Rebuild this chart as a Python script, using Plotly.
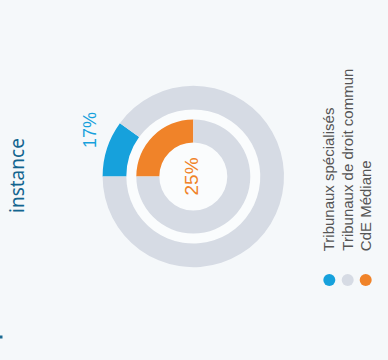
import plotly.graph_objects as go

W, H = 388, 360
BG = "#F5F8FA"

# Data
series_names = ["Tribunaux spécialisés", "Tribunaux de droit commun", "CdE Médiane"]
series_colors = ["#16A1DC", "#D6DBE4", "#F08329"]
outer_values = [10, 90]          # visible share of the outer ring
outer_label = "17%"
inner_values = [25, 75]
inner_label = "25%"
title_text = "instance"

def px_x(x):
    return x / W

def px_y(y):
    return 1 - y / H

cx, cy = 193.3, 176.5
r_out, r_out_in = 90.7, 67.0
r_in, r_in_in = 57.0, 34.0

fig = go.Figure()

fig.add_trace(go.Pie(
    values=outer_values,
    labels=["a", "b"],
    marker=dict(colors=[series_colors[0], series_colors[1]], line=dict(width=0)),
    hole=r_out_in / r_out,
    sort=False, direction="clockwise", rotation=270,
    textinfo="none", hoverinfo="skip", showlegend=False,
    domain=dict(x=[px_x(cx - r_out), px_x(cx + r_out)], y=[px_y(cy + r_out), px_y(cy - r_out)]),
))
fig.add_trace(go.Pie(
    values=inner_values,
    labels=["c", "d"],
    marker=dict(colors=[series_colors[2], series_colors[1]], line=dict(width=0)),
    hole=r_in_in / r_in,
    sort=False, direction="clockwise", rotation=270,
    textinfo="none", hoverinfo="skip", showlegend=False,
    domain=dict(x=[px_x(cx - r_in), px_x(cx + r_in)], y=[px_y(cy + r_in), px_y(cy - r_in)]),
))

shapes = [
    dict(type="circle", xref="paper", yref="paper", layer="below",
         x0=px_x(cx - r_out_in), x1=px_x(cx + r_out_in),
         y0=px_y(cy + r_out_in), y1=px_y(cy - r_out_in),
         fillcolor="#FAFCFD", line=dict(width=0)),
    dict(type="rect", xref="paper", yref="paper",
         x0=px_x(0), x1=px_x(2.5), y0=px_y(338.5), y1=px_y(335.5),
         fillcolor="#1B6A93", line=dict(width=0)),
]
legend_x = [329.3, 347.7, 365.7]
for xc, col in zip(legend_x, series_colors):
    shapes.append(dict(type="circle", xref="paper", yref="paper",
                       x0=px_x(xc - 6), x1=px_x(xc + 6), y0=px_y(286), y1=px_y(274),
                       fillcolor=col, line=dict(width=0)))

annotations = [
    dict(text=outer_label, x=px_x(90), y=px_y(130), xref="paper", yref="paper",
         showarrow=False, textangle=-90, xanchor="center", yanchor="middle",
         font=dict(family="Liberation Sans, Arial", size=18, color=series_colors[0])),
    dict(text=inner_label, x=px_x(190.5), y=px_y(177), xref="paper", yref="paper",
         showarrow=False, textangle=-90, xanchor="center", yanchor="middle",
         font=dict(family="Liberation Sans, Arial", size=19, color=series_colors[2])),
    dict(text=title_text, x=px_x(16.5), y=px_y(175.5), xref="paper", yref="paper",
         showarrow=False, textangle=-90, xanchor="center", yanchor="middle",
         font=dict(family="Noto Sans", size=19, color="#13658F")),
]
for xc, name in zip(legend_x, series_names):
    annotations.append(dict(text=name, x=px_x(xc), y=px_y(253), xref="paper", yref="paper",
                            showarrow=False, textangle=-90, xanchor="center", yanchor="bottom",
                            font=dict(family="Liberation Sans, Arial", size=15, color="#555555")))

fig.update_layout(
    width=W, height=H,
    margin=dict(l=0, r=0, t=0, b=0),
    paper_bgcolor=BG, plot_bgcolor=BG,
    shapes=shapes, annotations=annotations,
    showlegend=False,
)

fig.write_html(
    "out.html",
    config={"displayModeBar": False},
    post_script="document.body.style.margin='0';document.body.style.background='%s';" % BG,
)
